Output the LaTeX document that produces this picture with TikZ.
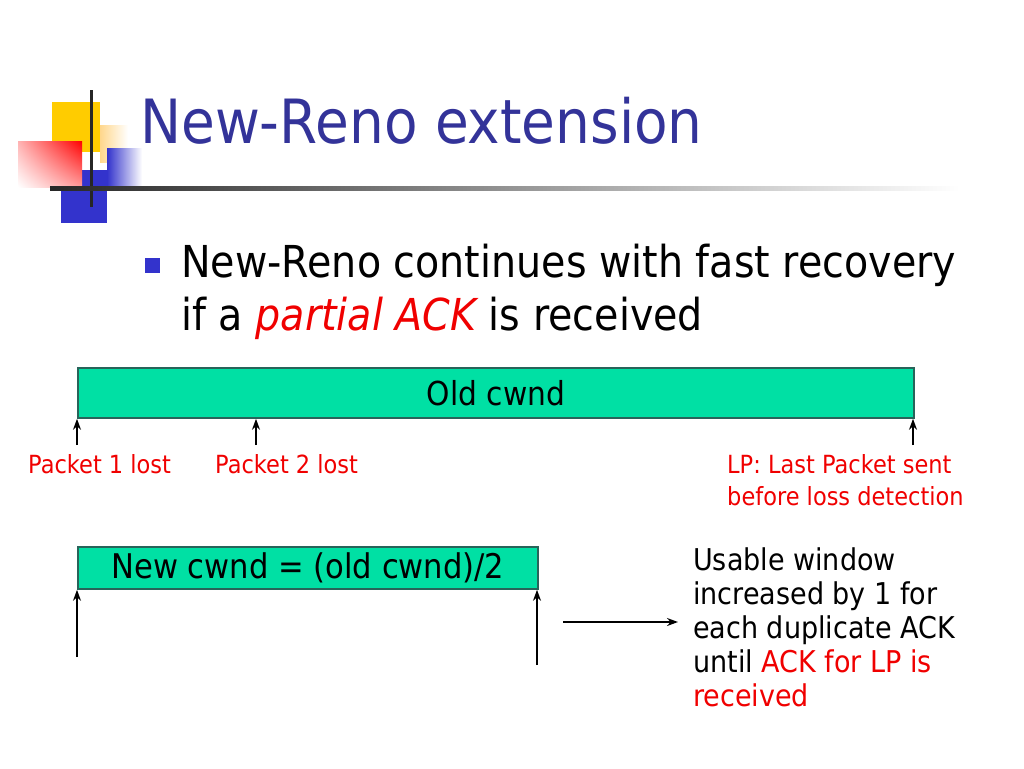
\documentclass[tikz,border=0pt]{standalone}
\usepackage{fontspec}
\setmainfont{DejaVu Sans}[FakeStretch=0.9]
\usetikzlibrary{arrows.meta,shadings}
\definecolor{titleblue}{RGB}{51,51,153}
\definecolor{bulletblue}{RGB}{51,51,204}
\definecolor{cwndgreen}{RGB}{0,224,164}
\definecolor{cwndedge}{RGB}{40,100,90}
\definecolor{lossred}{RGB}{240,0,0}
\definecolor{logoyellow}{RGB}{255,204,0}
\begin{document}
\begin{tikzpicture}[x=1pt,y=-1pt,
  cwnd bar/.style={draw=cwndedge,line width=1.8pt,fill=cwndgreen,inner sep=0pt,anchor=north west},
  plain text/.style={inner sep=0pt,anchor=base west,align=left},
  lost label/.style={plain text,text=lossred,font=\fontsize{25}{32}\selectfont},
  up arrow/.style={-{Stealth[length=11pt,width=8pt]},line width=1.7pt}]

  \useasboundingbox (0,0) rectangle (1024,768);

  % logo
  \fill[logoyellow] (52,102) rectangle (100,152);
  \shade[left color={rgb,255:red,255;green,215;blue,140},right color=white] (100,125) rectangle (128,162);
  \fill[bulletblue] (61,170) rectangle (107,223);
  \shade[left color=bulletblue,right color=white] (107,148) rectangle (142,187);
  \shade[upper right=red,upper left=red!30!white,lower right=red!40!white,lower left=white] (18,141) rectangle (82,187);
  \draw[line width=3pt,black!85] (91,90) -- (91,207);
  \shade[left color=black!85,right color=white] (50,186.5) rectangle (960,190.5);

  \node[plain text,text=titleblue,font=\fontsize{61}{70}\selectfont] (title) at (140,143) {New-Reno extension};
  \node[fill=bulletblue,minimum size=15pt,inner sep=0pt] (bullet) at (152.5,265.5) {};
  % multi-line texts: base is the last line
  \node[plain text,font=\fontsize{44}{53}\selectfont] (point) at (181,330)
    {New-Reno continues with fast recovery\\if a \textcolor{lossred}{\itshape partial ACK} is received};

  \node[cwnd bar,minimum width=836pt,minimum height=50pt,font=\fontsize{33}{40}\selectfont] (old) at (77,367) {Old cwnd};
  \node[cwnd bar,minimum width=460pt,minimum height=42pt,font=\fontsize{34}{40}\selectfont] (new) at (77,546) {New cwnd = (old cwnd)/2};

  \node[lost label] (lost1) at (28,473) {Packet 1 lost};
  \node[lost label] (lost2) at (215,473) {Packet 2 lost};
  \node[lost label] (last) at (727,505) {LP: Last Packet sent\\before loss detection};
  \node[plain text,font=\fontsize{30}{34}\selectfont] (usable) at (693,706)
    {Usable window\\increased by 1 for\\each duplicate ACK\\until \textcolor{lossred}{ACK for LP is}\\\textcolor{lossred}{received}};

  \coordinate (a1) at (77,445);
  \coordinate (a2) at (256,445);
  \coordinate (a3) at (913,445);
  \coordinate (b1) at (77,657);
  \coordinate (b2) at (537,665);
  \coordinate (c1) at (563,622);
  \coordinate (c2) at (678,622);

  \draw[up arrow] (a1) -- (a1 |- old.south);
  \draw[up arrow] (a2) -- (a2 |- old.south);
  \draw[up arrow] (a3) -- (a3 |- old.south);
  \draw[up arrow] (b1) -- (b1 |- new.south);
  \draw[up arrow] (b2) -- (b2 |- new.south);
  \draw[up arrow] (c1) -- (c2);
\end{tikzpicture}
\end{document}
